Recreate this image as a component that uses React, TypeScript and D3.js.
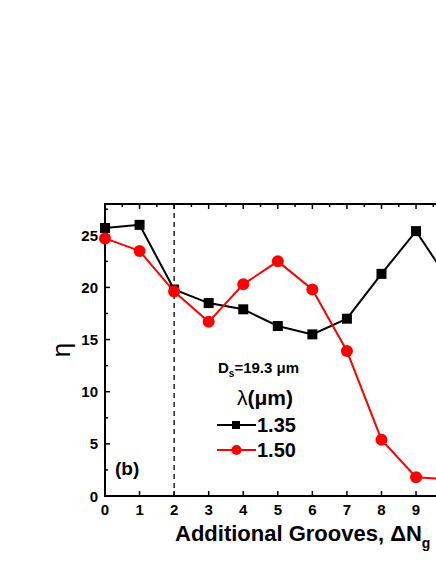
import React from "react";
import * as d3 from "d3";

// data
const grooves = [0, 1, 2, 3, 4, 5, 6, 7, 8, 9, 10];
const eta135 = [25.7, 26.0, 19.8, 18.5, 17.9, 16.3, 15.5, 17.0, 21.3, 25.4, 20.4];
const eta150 = [24.7, 23.5, 19.6, 16.7, 20.3, 22.5, 19.8, 13.9, 5.4, 1.8, 1.6];
const xTicks = [0, 1, 2, 3, 4, 5, 6, 7, 8, 9, 10];
const xLabels = ["0", "1", "2", "3", "4", "5", "6", "7", "8", "9"];
const yTicks = [0, 5, 10, 15, 20, 25];
const yMinor = [2.5, 7.5, 12.5, 17.5, 22.5, 27.5];
const cutoff = 2;

const W = 436;
const H = 564;
const left = 105;
const top = 204;
const bottom = 496;
const FONT = "'Liberation Sans', Arial, sans-serif";

export default function App() {
  const x = d3.scaleLinear().domain([0, 10]).range([left, left + 345.6]);
  const y = d3.scaleLinear().domain([0, 28]).range([bottom, top]);
  const line = d3
    .line<number>()
    .x((_, i) => x(grooves[i]))
    .y((d) => y(d));
  const topTicks = d3.range(0, 10.01, 0.5);

  return (
    <svg
      width={W}
      height={H}
      style={{ position: "absolute", left: 0, top: 0, background: "#fff" }}
      fontFamily={FONT}
      fontWeight="bold"
    >
      {/* frame */}
      <line x1={left} x2={W + 5} y1={top} y2={top} stroke="#000" strokeWidth={2} />
      <line x1={left} x2={W + 5} y1={bottom} y2={bottom} stroke="#000" strokeWidth={2} />
      <line x1={left} x2={left} y1={top - 1} y2={bottom + 1} stroke="#000" strokeWidth={2} />

      {/* y ticks */}
      {yTicks.map((t) => (
        <g key={"y" + t}>
          <line x1={left} x2={left + 5} y1={y(t)} y2={y(t)} stroke="#000" strokeWidth={1.5} />
          <text x={left - 7} y={y(t) + 5.5} textAnchor="end" fontSize={15}>
            {t}
          </text>
        </g>
      ))}
      {yMinor.map((t) => (
        <line key={"ym" + t} x1={left} x2={left + 3} y1={y(t)} y2={y(t)} stroke="#000" strokeWidth={1.5} />
      ))}

      {/* x ticks */}
      {xTicks.map((t) => (
        <line key={"x" + t} x1={x(t)} x2={x(t)} y1={bottom} y2={bottom - 5} stroke="#000" strokeWidth={1.5} />
      ))}
      {xLabels.map((l, i) => (
        <text key={"xl" + l} x={x(xTicks[i])} y={bottom + 19} textAnchor="middle" fontSize={15}>
          {l}
        </text>
      ))}
      {topTicks.map((t) => (
        <line
          key={"xt" + t}
          x1={x(t)}
          x2={x(t)}
          y1={top}
          y2={top + (t % 1 === 0 ? 5 : 3)}
          stroke="#000"
          strokeWidth={1.5}
        />
      ))}

      {/* dashed cutoff */}
      <line
        x1={x(cutoff)}
        x2={x(cutoff)}
        y1={top}
        y2={bottom}
        stroke="#000"
        strokeWidth={1.3}
        strokeDasharray="5,4"
      />

      {/* series */}
      <path d={line(eta135) ?? ""} fill="none" stroke="#000" strokeWidth={2} />
      {eta135.map((v, i) => (
        <rect key={"s" + i} x={x(grooves[i]) - 5} y={y(v) - 5} width={10} height={10} fill="#000" />
      ))}
      <path d={line(eta150) ?? ""} fill="none" stroke="#f00" strokeWidth={2} />
      {eta150.map((v, i) => (
        <circle key={"c" + i} cx={x(grooves[i])} cy={y(v)} r={6} fill="#f00" />
      ))}

      {/* annotations */}
      <text x={218} y={373} fontSize={15}>
        D<tspan fontSize={10} dy={4}>s</tspan>
        <tspan dy={-4}>=19.3 μm</tspan>
      </text>
      <text x={237} y={405} fontSize={21} fontWeight="normal">
        λ<tspan fontWeight="bold">(μm)</tspan>
      </text>
      <line x1={217} x2={256} y1={425} y2={425} stroke="#000" strokeWidth={2} />
      <rect x={232} y={421} width={8} height={8} fill="#000" />
      <text x={257} y={432} fontSize={20}>
        1.35
      </text>
      <line x1={217} x2={256} y1={450} y2={450} stroke="#f00" strokeWidth={2} />
      <circle cx={236.5} cy={450} r={5} fill="#f00" />
      <text x={257} y={457} fontSize={20}>
        1.50
      </text>
      <text x={115} y={475} fontSize={19}>
        (b)
      </text>

      {/* axis titles */}
      <text
        transform={`translate(70,${(top + bottom) / 2}) rotate(-90)`}
        textAnchor="middle"
        fontSize={26}
        fontWeight="normal"
      >
        η
      </text>
      <text x={175} y={541} fontSize={22}>
        Additional Grooves, ΔN<tspan fontSize={14} dy={7}>g</tspan>
      </text>
    </svg>
  );
}
